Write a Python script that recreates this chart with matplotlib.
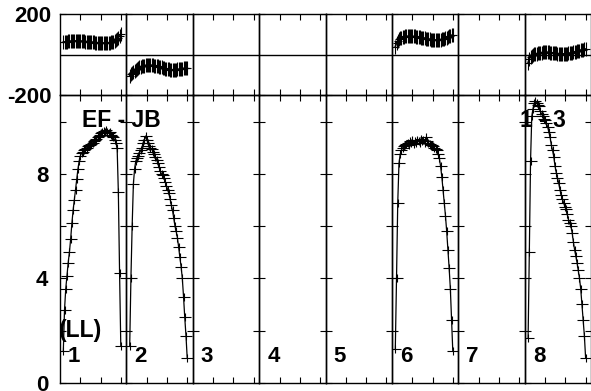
import matplotlib
matplotlib.use('Agg')
import matplotlib.pyplot as plt
from matplotlib.path import Path

# ---------------- data ----------------
channels = list(range(1, 49))
if_labels = ['1', '2', '3', '4', '5', '6', '7', '8']
baseline_label = 'EF - JB'
pol_label = '(LL)'
corner_label = '1 - 3'

amp_if1 = [1.2, 2.8, 3.6, 4.1, 4.6, 5.0, 5.5, 6.1, 6.6, 7.0, 7.4, 7.8,
           8.2, 8.5, 8.7, 8.8, 8.85, 8.9, 8.95, 9.0, 9.05, 9.1, 9.1, 9.15,
           9.2, 9.25, 9.3, 9.35, 9.4, 9.45, 9.5, 9.55, 9.6, 9.65, 9.6, 9.7,
           9.6, 9.55, 9.6, 9.5, 9.45, 9.4, 9.3, 9.2, 9.0, 7.3, 4.2, 1.4]
amp_if2 = [1.4, 4.0, 6.0, 7.6, 8.2, 8.5, 8.6, 8.7, 8.8, 8.9, 9.0, 9.2,
           9.3, 9.45, 9.3, 9.2, 9.05, 9.0, 8.95, 8.85, 8.75, 8.65, 8.55, 8.4,
           8.25, 8.1, 8.0, 7.95, 7.85, 7.7, 7.55, 7.4, 7.25, 7.05, 6.8, 6.6,
           6.3, 6.0, 5.8, 5.55, 5.2, 4.8, 4.45, 4.0, 3.3, 2.5, 1.8, 0.95]
amp_if6 = [1.3, 4.0, 6.9, 8.4, 8.75, 8.9, 9.0, 9.05, 9.1, 9.15, 9.2, 9.1,
           9.25, 9.2, 9.3, 9.15, 9.25, 9.2, 9.3, 9.25, 9.2, 9.35, 9.25, 9.3,
           9.2, 9.4, 9.25, 9.2, 9.15, 9.1, 9.1, 9.05, 9.0, 8.95, 8.9, 8.75,
           8.6, 8.3, 7.9, 7.4, 6.9, 6.4, 5.8, 5.1, 4.4, 3.6, 2.4, 1.2]
amp_if8 = [1.7, 5.0, 8.5, 10.2, 10.5, 10.7, 10.8, 10.7, 10.65, 10.6, 10.4, 10.3,
           10.2, 10.1, 10.05, 9.95, 9.8, 9.6, 9.4, 9.1, 8.9, 8.65, 8.3, 8.05,
           7.85, 7.65, 7.4, 7.2, 7.05, 6.9, 6.75, 6.65, 6.45, 6.25, 6.1, 6.0,
           5.75, 5.4, 5.1, 4.85, 4.6, 4.3, 4.0, 3.6, 3.0, 2.4, 1.8, 0.95]

phase_if1 = [62, 63, 64, 65, 66, 66, 67, 68, 68, 68, 68, 69,
             68, 68, 68, 67, 67, 66, 65, 65, 64, 63, 63, 62,
             62, 61, 60, 60, 59, 59, 58, 58, 58, 58, 57, 58,
             58, 59, 60, 61, 63, 65, 68, 72, 77, 85, 92, 100]
phase_if2 = [-105, -98, -90, -84, -79, -74, -70, -66, -62, -59, -57, -55,
             -54, -53, -53, -52, -52, -52, -53, -53, -54, -55, -57, -58,
             -60, -62, -63, -65, -67, -69, -70, -72, -73, -74, -74, -75,
             -75, -74, -74, -73, -72, -71, -70, -69, -68, -67, -66, -66]
phase_if6 = [40, 58, 70, 78, 82, 85, 87, 89, 90, 91, 91, 92,
             92, 91, 91, 90, 90, 89, 88, 87, 86, 85, 84, 83,
             81, 80, 79, 77, 76, 75, 74, 74, 73, 73, 73, 74,
             74, 75, 77, 78, 80, 83, 85, 88, 90, 93, 96, 99]
phase_if8 = [-40, -20, -12, -6, -2, 1, 3, 5, 7, 8, 9, 10,
             11, 12, 12, 12, 12, 11, 10, 9, 8, 7, 6, 6,
             5, 5, 4, 4, 4, 4, 4, 4, 5, 6, 7, 8,
             10, 12, 13, 15, 17, 18, 20, 22, 24, 25, 26, 28]

amp_by_if = {'1': amp_if1, '2': amp_if2, '6': amp_if6, '8': amp_if8}
phase_by_if = {'1': phase_if1, '2': phase_if2, '6': phase_if6, '8': phase_if8}

# ---------------- style / layout ----------------
plt.rcParams['font.family'] = ['Liberation Sans', 'DejaVu Sans']
plt.rcParams['font.weight'] = 'bold'
plt.rcParams['font.size'] = 16

W, H = 591, 391
fig = plt.figure(figsize=(W / 100, H / 100), dpi=100)


def fx(px):
    return px / W


def fy(py):
    return 1 - py / H


x0 = 60.0
pw = 66.4
top_y0, mid_y, bot_y = 14.3, 95.0, 382.7
ch_px = 1.2234
c1_off = 3.3
xlim = (1 - c1_off / ch_px, 1 + (pw - c1_off) / ch_px)
xticks = [1 + (o - c1_off) / ch_px for o in (20.3, 40.5, 60.8)]

amp_cross = Path([(-1, 0), (1, 0), (0, -0.75), (0, 0.75)],
                 [Path.MOVETO, Path.LINETO, Path.MOVETO, Path.LINETO])
phase_cross = Path([(-0.6, 0), (0.6, 0), (0, -1), (0, 1)],
                   [Path.MOVETO, Path.LINETO, Path.MOVETO, Path.LINETO])

for i, lab in enumerate(if_labels):
    left = fx(x0 + i * pw)
    axp = fig.add_axes([left, fy(mid_y), fx(pw), (mid_y - top_y0) / H])
    axa = fig.add_axes([left, fy(bot_y), fx(pw), (bot_y - mid_y) / H])

    for ax in (axp, axa):
        ax.set_xlim(*xlim)
        ax.set_xticks(xticks)
        ax.tick_params(axis='x', direction='in', length=4.5, width=0.8,
                       top=True, bottom=True, labelbottom=False)
        ax.tick_params(axis='y', direction='in', length=4.5, width=0.8,
                       left=True, right=True)
        for s in ax.spines.values():
            s.set_linewidth(1.0)
            s.set_color('black')
        ax.set_facecolor('none')

    axp.set_ylim(-200, 200)
    axp.set_yticks([-200, 200])
    axp.set_yticklabels(['-200', '200'])
    axp.axhline(0, color='black', lw=1.0)

    axa.set_ylim(0, (bot_y - mid_y) / 26.1)
    axa.set_yticks([0, 2, 4, 6, 8, 10])
    axa.set_yticklabels(['0', '', '4', '', '8', ''])

    if i == 0:
        axp.tick_params(axis='y', labelleft=True, pad=6)
        axa.tick_params(axis='y', labelleft=True, pad=8.5)
    else:
        axp.tick_params(axis='y', labelleft=False)
        axa.tick_params(axis='y', labelleft=False)

    if lab in amp_by_if:
        axa.plot(channels, amp_by_if[lab], color='black', lw=0.9,
                 marker=amp_cross, ms=8.5, mew=0.8)
        axp.plot(channels, phase_by_if[lab], color='black', lw=1.2,
                 marker=phase_cross, ms=9.5, mew=0.8)

    fig.text(fx(x0 + i * pw + 8), fy(362), lab, ha='left', va='baseline',
             fontsize=16, fontweight='bold')

fig.text(fx(81.5), fy(126.7), baseline_label, ha='left', va='baseline',
         fontsize=16.5, fontweight='bold')
fig.text(fx(519.5), fy(127), corner_label, ha='left', va='baseline',
         fontsize=16.5, fontweight='bold')
fig.text(fx(59), fy(336.7), pol_label, ha='left', va='baseline',
         fontsize=16.5, fontweight='bold')

fig.savefig('out.png', dpi=100)
